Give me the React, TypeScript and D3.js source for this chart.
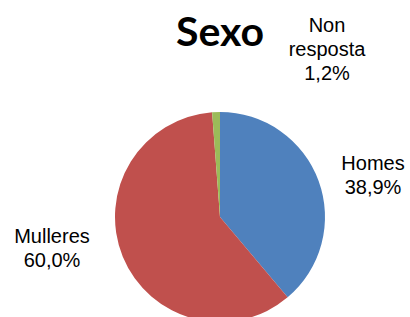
import * as React from "react";
import * as d3 from "d3";

const categories = ["Homes", "Mulleres", "Non resposta"];
const values = [38.9, 60.0, 1.2];
const valueLabels = ["38,9%", "60,0%", "1,2%"];
const colors = ["#4F81BD", "#C0504D", "#9BBB59"];
const title = "Sexo";

function drawChart(svgRef: React.RefObject<SVGSVGElement>) {
  const w = 410;
  const h = 317;
  const svg = d3.select(svgRef.current);
  svg.selectAll("*").remove();

  svg
    .attr("width", w)
    .attr("height", h)
    .style("position", "absolute")
    .style("left", "0px")
    .style("top", "0px")
    .style("background", "#ffffff");

  const cx = 220;
  const cy = 217;
  const r = 105;

  const pie = d3
    .pie<number>()
    .sort(null)
    .value((d) => d);
  const arc = d3.arc<d3.PieArcDatum<number>>().innerRadius(0).outerRadius(r);

  const g = svg.append("g").attr("transform", `translate(${cx},${cy})`);
  g.selectAll("path")
    .data(pie(values))
    .join("path")
    .attr("d", arc)
    .attr("fill", (d, i) => colors[i]);

  // title
  svg
    .append("text")
    .attr("x", 220)
    .attr("y", 46)
    .attr("text-anchor", "middle")
    .style("font-family", "Lato, 'Liberation Sans', sans-serif")
    .style("font-weight", "bold")
    .style("font-size", "41px")
    .attr("fill", "#000")
    .text(title);

  // data labels (placed outside the slices like Excel does)
  const labelPos = [
    { x: 373, y: 170 },
    { x: 52, y: 243 },
    { x: 327, y: 32 },
  ];
  categories.forEach((c, i) => {
    const words = i === 2 ? c.split(" ") : [c];
    const lines = [...words, valueLabels[i]];
    const t = svg
      .append("text")
      .attr("text-anchor", "middle")
      .style("font-family", "'Liberation Sans', Arial, sans-serif")
      .style("font-size", "20px")
      .attr("fill", "#000");
    lines.forEach((ln, j) => {
      t.append("tspan")
        .attr("x", labelPos[i].x)
        .attr("y", labelPos[i].y + j * 24)
        .text(ln);
    });
  });
}

const App: React.FunctionComponent = () => {
  const svg = React.useRef<SVGSVGElement>(null);
  React.useEffect(() => {
    drawChart(svg);
  }, [svg]);

  return (
    <div id="chart">
      <svg ref={svg} />
    </div>
  );
};

export default App;
